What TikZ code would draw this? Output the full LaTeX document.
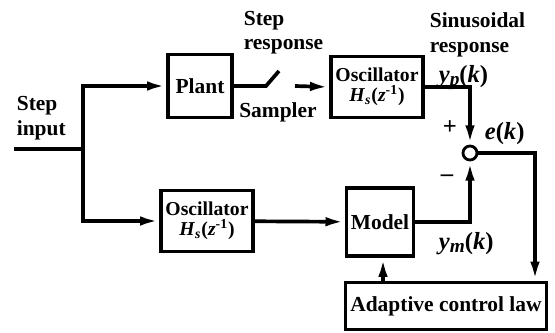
\documentclass[tikz,border=0pt]{standalone}
\usepackage{fontspec}
\setmainfont{Liberation Serif}
\usetikzlibrary{arrows.meta,positioning}

\newcommand{\lowsub}[1]{\raisebox{-0.35ex}{\fontsize{11}{11}\selectfont\textit{#1}}}

\begin{document}
\begin{tikzpicture}[x=0.02cm, y=-0.02cm, >={Latex[length=11pt,width=5.4pt]},
line width=2.1pt, font=\bfseries\fontsize{12.2}{14}\selectfont,
block/.style={draw, line width=1.9pt, inner sep=0pt, align=center},
oscbox/.style={block, minimum width=1.84cm, minimum height=1.22cm, font=\bfseries\fontsize{11.2}{11.5}\selectfont},
lbl/.style={inner sep=0pt, align=left},
sig/.style={inner sep=0pt, font=\bfseries\fontsize{14}{14}\selectfont},
sumnode/.style={draw, circle, line width=1.6pt, minimum size=0.28cm, inner sep=0pt, fill=white}]

\useasboundingbox (0,0) rectangle (555,332);

% blocks
\node[block, minimum width=1.28cm, minimum height=1.26cm] (plant) at (200,86) {Plant};
\node[oscbox] (oscT) at (377,87) {Oscillator\\\textit{H}\textsubscript{\textit{s}}(\textit{z}\textsuperscript{-1})};
\node[oscbox] (oscB) at (207,221) {Oscillator\\\textit{H}\textsubscript{\textit{s}}(\textit{z}\textsuperscript{-1})};
\node[block, minimum width=1.34cm, minimum height=1.36cm] (model) at (380,222) {Model};
\node[block, minimum width=4.02cm, minimum height=0.94cm] (law) at (446,306) {Adaptive control law};
\node[sumnode] (sum) at (470,153) {};

% labels
\node[lbl, anchor=west] (stepin) at (15,118) {Step\\input};
\node[lbl, anchor=north west] (stepresp) at (242,9) {Step\\response};
\node[lbl] (sampler) at (278,112) {Sampler};
\node[lbl, anchor=north west] (sinresp) at (428,11) {Sinusoidal\\response};
\node[sig, anchor=base west] (yp) at (437,82) {\textit{y}\lowsub{p}(\textit{k})};
\node[sig, anchor=base west] (ek) at (483,139) {\textit{e}(\textit{k})};
\node[sig, anchor=base west] (ym) at (437,249) {\textit{y}\lowsub{m}(\textit{k})};
\node[sig] (plus) at (450,128) {+};
\node[sig] (minus) at (447,178) {–};

% points on the lines
\coordinate (in) at (14,149);
\coordinate (split) at (83,149);
\coordinate (sw1) at (266,86);
\coordinate (sw2) at (279,71);
\coordinate (sw3) at (295,86);
\coordinate (fb) at (535,153);

% connections
\draw (in) -- (split);
\draw[->] (split) |- (plant.west);
\draw[->] (split) |- (oscB.west);
\draw (plant.east) -- (sw1) -- (sw2);
\draw[->] (sw3) -- (oscT.west);
\draw[->] (oscT.east) -| (sum.north);
\draw[->] (oscB) -- (model);
\draw[->] (model.east) -| (sum.south);
\draw[->] (sum.east) -- (fb) -- (fb |- law.north);
\draw[->] (law.north -| 383,0) -- (383,0 |- model.south);
\end{tikzpicture}
\end{document}
